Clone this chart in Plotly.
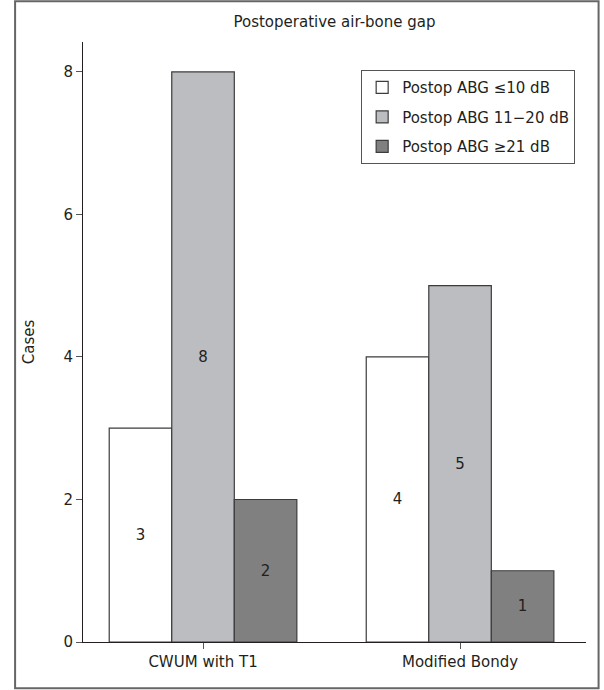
import plotly.graph_objects as go

categories = ["CWUM with T1", "Modified Bondy"]
series_names = ["Postop ABG \u226410 dB", "Postop ABG 11\u221220 dB", "Postop ABG \u226521 dB"]
low_vals = [3, 4]
mid_vals = [8, 5]
high_vals = [2, 1]
y_ticks = [0, 2, 4, 6, 8]

colors = ["#FFFFFF", "#BCBDC0", "#808080"]
FONT = "DejaVu Sans"
FS = 15

fig = go.Figure()
for i, (name, vals, col) in enumerate(zip(series_names, [low_vals, mid_vals, high_vals], colors)):
    fig.add_trace(go.Bar(
        x=categories, y=vals, name=name,
        marker=dict(color=col, line=dict(color="#3C3C3C", width=1.2)),
        text=[str(v) for v in vals], textposition="inside",
        insidetextanchor="middle",
        textfont=dict(color="#231F20", size=FS, family=FONT),
        legendgroup=f"g{i}",
    ))

fig.update_layout(
    width=604, height=690,
    barmode="group", bargap=0.27, bargroupgap=0,
    paper_bgcolor="white", plot_bgcolor="white",
    margin=dict(l=83, r=18, t=42, b=48),
    font=dict(family=FONT, size=FS, color="#231F20"),
    title=dict(text="Postoperative air-bone gap", x=0.5, xref="paper", y=0.968, yref="container",
               xanchor="center", yanchor="middle", font=dict(size=FS, family=FONT)),
    showlegend=True,
    legend=dict(x=0.553, y=0.953, xanchor="left", yanchor="top",
                bordercolor="#555555", borderwidth=1, bgcolor="white",
                traceorder="grouped", tracegroupgap=7,
                font=dict(size=FS, family=FONT)),
    uniformtext=dict(mode=False),
)
fig.update_xaxes(range=[-0.467, 1.49], showline=True, linecolor="#231F20", linewidth=1,
                 ticks="outside", ticklen=6, tickcolor="#555555", showgrid=False,
                 tickfont=dict(size=FS, family=FONT))
fig.update_yaxes(range=[0, 8.42], tickvals=y_ticks, showline=True, linecolor="#231F20", linewidth=1,
                 ticks="outside", ticklen=6, tickcolor="#555555", showgrid=False, zeroline=False,
                 title=dict(text="Cases", standoff=25, font=dict(size=FS, family=FONT)),
                 tickfont=dict(size=FS, family=FONT))
fig.add_shape(type="rect", xref="paper", yref="paper",
              x0=-0.135, x1=1.025, y0=-0.077, y1=1.068,
              line=dict(color="#666666", width=2), fillcolor="rgba(0,0,0,0)", layer="below")

fig.write_html("out.html")
